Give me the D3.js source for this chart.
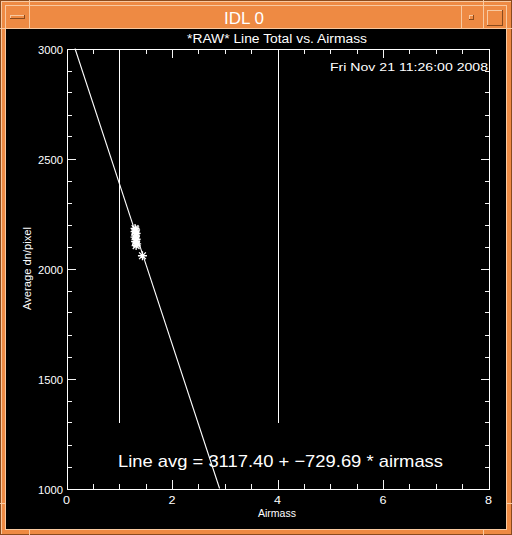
<!DOCTYPE html>
<html><head><meta charset="utf-8">
<script src="https://cdn.jsdelivr.net/npm/d3@7"></script>
<style>
html,body{margin:0;padding:0;background:#EE8A43;}
svg{display:block;}
text{font-family:"Liberation Sans","DejaVu Sans",sans-serif;fill:#fff;}
</style></head>
<body>
<script>
// ---- data ----
const airmass = [1.30, 1.31, 1.30, 1.32, 1.31, 1.30, 1.32, 1.31, 1.33, 1.32, 1.44];
const dnPerPixel = [2182, 2176, 2168, 2160, 2152, 2143, 2133, 2122, 2112, 2104, 2058];
const fitIntercept = 3117.40;
const fitSlope = -729.69;
const markerX = [1, 4];
const markerY = [3000, 1300];
const xMajorTicks = [0, 2, 4, 6, 8];
const xMinorTicks = [0, 0.5, 1, 1.5, 2, 2.5, 3, 3.5, 4, 4.5, 5, 5.5, 6, 6.5, 7, 7.5, 8];
const yMajorTicks = [1000, 1500, 2000, 2500, 3000];
const yMinorTicks = [1000, 1100, 1200, 1300, 1400, 1500, 1600, 1700, 1800, 1900, 2000,
                     2100, 2200, 2300, 2400, 2500, 2600, 2700, 2800, 2900, 3000];
const windowTitle = "IDL 0";
const plotTitle = "*RAW* Line Total vs. Airmass";
const dateText = "Fri Nov 21 11:26:00 2008";
const xTitle = "Airmass";
const yTitle = "Average dn/pixel";

// ---- layout ----
const W = 512, H = 535;
const svg = d3.select("body").append("svg").attr("width", W).attr("height", H);

const orange = "#EE8A43", light = "#F8C9A0", dark = "#8A4A1C";

svg.append("rect").attr("x",0).attr("y",0).attr("width",W).attr("height",H).attr("fill",orange);
const frame = svg.append("g").attr("fill","none").attr("shape-rendering","crispEdges");
frame.append("rect").attr("x",0.5).attr("y",0.5).attr("width",W-1).attr("height",H-1).attr("stroke",dark);
frame.append("line").attr("x1",1).attr("x2",W-1).attr("y1",1.5).attr("y2",1.5).attr("stroke",light);
frame.append("line").attr("x1",1.5).attr("x2",1.5).attr("y1",1).attr("y2",H-1).attr("stroke",light);
frame.append("rect").attr("x",5.5).attr("y",5.5).attr("width",501).attr("height",524).attr("stroke",light);
frame.append("line").attr("x1",6).attr("x2",507).attr("y1",529.5).attr("y2",529.5).attr("stroke",light);
[[29.5,0,29.5,6],[483.5,0,483.5,6],[29.5,529,29.5,535],[483.5,529,483.5,535],
 [0,28.5,6,28.5],[506,28.5,512,28.5],[0,503.5,6,503.5],[506,503.5,512,503.5]].forEach(d=>{
  frame.append("line").attr("x1",d[0]).attr("y1",d[1]).attr("x2",d[2]).attr("y2",d[3]).attr("stroke",light);
});
[29.5,461.5,483.5].forEach(xx=>{
  frame.append("line").attr("x1",xx).attr("x2",xx).attr("y1",6).attr("y2",28).attr("stroke",light);
});
frame.append("line").attr("x1",6).attr("x2",506).attr("y1",28.5).attr("y2",28.5).attr("stroke",light);
function bevelRect(x0,y0,w,h){
  frame.append("line").attr("x1",x0).attr("x2",x0+w).attr("y1",y0+0.5).attr("y2",y0+0.5).attr("stroke",light);
  frame.append("line").attr("x1",x0+0.5).attr("x2",x0+0.5).attr("y1",y0).attr("y2",y0+h).attr("stroke",light);
  frame.append("line").attr("x1",x0).attr("x2",x0+w).attr("y1",y0+h-0.5).attr("y2",y0+h-0.5).attr("stroke",dark);
  frame.append("line").attr("x1",x0+w-0.5).attr("x2",x0+w-0.5).attr("y1",y0).attr("y2",y0+h).attr("stroke",dark);
}
bevelRect(10,15,15,4);
bevelRect(469,15,5,5);
bevelRect(487,10,16,16);
svg.append("text").attr("x",244).attr("y",24).attr("text-anchor","middle")
  .attr("font-size",17).text(windowTitle);

svg.append("rect").attr("x",6).attr("y",29).attr("width",500).attr("height",500).attr("fill","#000");

const x = d3.scaleLinear().domain([0,8]).range([66.5,488.5]);
const y = d3.scaleLinear().domain([1000,3000]).range([488.5,48.5]);
const px = v => Math.round(x(v)) + 0.5;
const py = v => Math.round(y(v)) + 0.5;
const x0 = px(0), x1 = px(8), yB = py(1000), yT = py(3000);

// tick marks as filled rects, positioned through the scales
const tickRects = [];
xMinorTicks.forEach(v => {
  const len = xMajorTicks.includes(v) ? 9 : 5;
  const cx = Math.round(x(v));
  tickRects.push({x: cx, y: yB - 0.5 - len, w: 1, h: len});
  tickRects.push({x: cx, y: yT - 0.5, w: 1, h: len});
});
yMinorTicks.forEach(v => {
  const len = yMajorTicks.includes(v) ? 9 : 5;
  const cy = Math.round(y(v));
  tickRects.push({x: x0 - 0.5, y: cy, w: len, h: 1});
  tickRects.push({x: x1 + 0.5 - len, y: cy, w: len, h: 1});
});
svg.append("g").selectAll("rect").data(tickRects).join("rect")
  .attr("x",d=>d.x).attr("y",d=>d.y).attr("width",d=>d.w).attr("height",d=>d.h)
  .attr("fill","#f4f4f4");
svg.append("rect").attr("x",x0).attr("y",yT).attr("width",x1-x0).attr("height",yB-yT)
  .attr("fill","none").attr("stroke","#fff").attr("shape-rendering","crispEdges");

svg.append("g").selectAll("text").data(xMajorTicks).join("text")
  .attr("x",d=>x(d)).attr("y",504).attr("text-anchor","middle").attr("font-size",10.5)
  .attr("textLength",7).attr("lengthAdjust","spacingAndGlyphs").text(d=>d3.format("d")(d));
svg.append("g").selectAll("text").data(yMajorTicks).join("text")
  .attr("x",63).attr("y",d=>y(d)+5).attr("text-anchor","end").attr("font-size",10.5)
  .attr("textLength",25).attr("lengthAdjust","spacingAndGlyphs").text(d=>d3.format("d")(d));

svg.append("g").selectAll("line").data(markerX).join("line")
  .attr("x1",d=>px(d)).attr("x2",d=>px(d))
  .attr("y1",y(markerY[0])).attr("y2",y(markerY[1]))
  .attr("stroke","#fff").attr("shape-rendering","crispEdges");

const xTop = (3000 - fitIntercept)/fitSlope, xBot = (1000 - fitIntercept)/fitSlope;
svg.append("line").attr("x1",x(xTop)).attr("y1",y(3000)).attr("x2",x(xBot)).attr("y2",y(1000))
  .attr("stroke","#fff").attr("stroke-width",1.1);

const s = 4.5;
const star = `M${-s},0H${s}M0,${-s}V${s}M${-s*0.75},${-s*0.75}L${s*0.75},${s*0.75}M${-s*0.75},${s*0.75}L${s*0.75},${-s*0.75}`;
svg.append("g").selectAll("path").data(airmass.map((a,i)=>[a,dnPerPixel[i]])).join("path")
  .attr("transform",d=>`translate(${x(d[0])},${y(d[1])})`)
  .attr("d",star).attr("stroke","#fff").attr("stroke-width",1.3).attr("fill","none");

svg.append("text").attr("x",277).attr("y",43).attr("text-anchor","middle").attr("font-size",12.5)
  .attr("textLength",180).attr("lengthAdjust","spacingAndGlyphs").text(plotTitle);
svg.append("text").attr("x",488).attr("y",71).attr("text-anchor","end").attr("font-size",11.5)
  .attr("textLength",158).attr("lengthAdjust","spacingAndGlyphs").text(dateText);
svg.append("text").attr("x",277).attr("y",517).attr("text-anchor","middle").attr("font-size",10.5)
  .attr("textLength",38).attr("lengthAdjust","spacingAndGlyphs").text(xTitle);
svg.append("text").attr("transform",`translate(31,${(y(1000)+y(3000))/2}) rotate(-90)`)
  .attr("text-anchor","middle").attr("font-size",10.5)
  .attr("textLength",83).attr("lengthAdjust","spacingAndGlyphs").text(yTitle);
svg.append("text").attr("x",118).attr("y",467).attr("font-size",17)
  .attr("textLength",325).attr("lengthAdjust","spacingAndGlyphs")
  .text(`Line avg = ${fitIntercept.toFixed(2)} + \u2212${Math.abs(fitSlope).toFixed(2)} * airmass`);
</script>
</body></html>
